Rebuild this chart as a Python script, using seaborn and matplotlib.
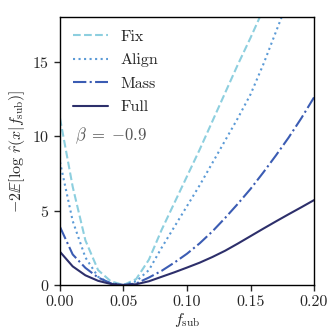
import numpy as np
import matplotlib
matplotlib.use('Agg')
import matplotlib.pyplot as plt
import seaborn as sns
import pandas as pd

# values
f_sub = [0.00, 0.01, 0.02, 0.03, 0.04, 0.05, 0.06, 0.07, 0.08, 0.09, 0.10,
         0.11, 0.12, 0.13, 0.14, 0.15, 0.16, 0.17, 0.18, 0.19, 0.20]

fix = [11.2, 6.6, 3.0, 1.0, 0.25, 0.0, 0.4, 1.7, 3.7, 5.5, 7.3,
       9.1, 11.0, 12.9, 14.8, 16.6, 18.5]
align = [8.26, 4.3, 1.85, 0.55, 0.1, 0.0, 0.25, 1.0, 2.5, 3.9, 5.3,
         6.7, 8.2, 9.7, 11.2, 12.8, 14.8, 17.0, 19.2]
mass = [3.9, 2.05, 1.15, 0.5, 0.12, 0.0, 0.1, 0.5, 0.95, 1.5, 2.1,
        2.8, 3.6, 4.5, 5.45, 6.45, 7.55, 8.7, 9.9, 11.2, 12.6]
full = [2.23, 1.25, 0.65, 0.28, 0.07, 0.0, 0.05, 0.25, 0.55, 0.85, 1.17,
        1.5, 1.88, 2.3, 2.78, 3.28, 3.78, 4.27, 4.75, 5.22, 5.7]

labels = ['Fix', 'Align', 'Mass', 'Full']
colors = ['#8dcfdf', '#5b9ad6', '#3b5cb3', '#2d2f6b']
styles = ['--', ':', '-.', '-']

sns.set_style('ticks')
plt.rcParams['font.family'] = 'serif'
plt.rcParams['font.serif'] = ['cmr10']
plt.rcParams['mathtext.fontset'] = 'cm'
plt.rcParams['axes.formatter.use_mathtext'] = True
plt.rcParams['font.size'] = 11.5

fig = plt.figure(figsize=(3.32, 3.32), dpi=100)
ax = fig.add_axes([0.1807, 0.1416, 0.7651, 0.8072])

for lab, vals, c, ls in zip(labels, [fix, align, mass, full], colors, styles):
    df = pd.DataFrame({'f': f_sub[:len(vals)], 'v': vals})
    sns.lineplot(data=df, x='f', y='v', ax=ax, color=c, linestyle=ls,
                 linewidth=1.5, label=lab)

ax.set_xlim(0, 0.2)
ax.set_ylim(0, 18)
ax.set_xticks([0, 0.05, 0.1, 0.15, 0.2])
ax.set_xticklabels(['0.00', '0.05', '0.10', '0.15', '0.20'])
ax.set_yticks([0, 5, 10, 15])
ax.tick_params(direction='out', length=4, width=1, labelsize=11.5)
for s in ax.spines.values():
    s.set_visible(True)
    s.set_color('black')
    s.set_linewidth(1)

ax.set_xlabel(r'$f_{\mathrm{sub}}$', labelpad=1)
ax.set_ylabel(r'$-2\mathbb{E}[\log\,\hat{r}(x|f_{\mathrm{sub}})]$', labelpad=4)

ax.legend(loc='upper left', frameon=False, handlelength=2.2,
          labelspacing=0.58, borderaxespad=0.4, fontsize=11.5)
ax.text(0.06, 0.556, r'$\beta\;=\;{-0.9}$', transform=ax.transAxes,
        color='#555555', fontsize=12, va='center')

fig.savefig('out.png', dpi=100)
